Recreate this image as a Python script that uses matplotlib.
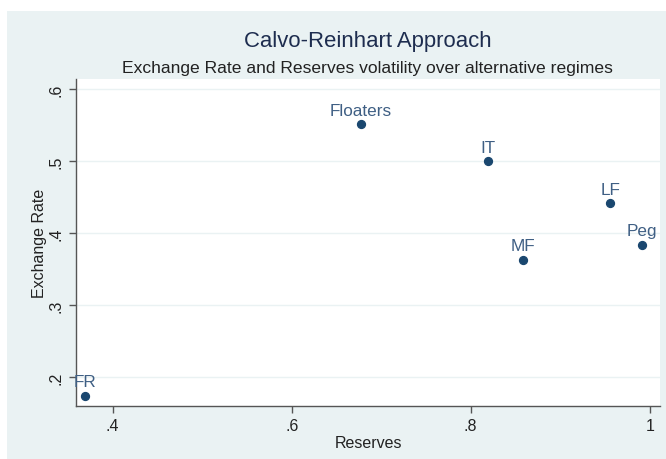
import matplotlib
matplotlib.use("Agg")
import matplotlib.pyplot as plt

plt.rcParams['font.family'] = ['Liberation Sans', 'DejaVu Sans']

regimes = ["FR", "Floaters", "IT", "MF", "LF", "Peg"]
reserves = [0.369, 0.677, 0.819, 0.858, 0.956, 0.991]
exchange_rate = [0.174, 0.551, 0.500, 0.363, 0.442, 0.384]

xticks = [0.4, 0.6, 0.8, 1.0]
xticklabels = [".4", ".6", ".8", "1"]
yticks = [0.2, 0.3, 0.4, 0.5, 0.6]
yticklabels = [".2", ".3", ".4", ".5", ".6"]

W, H = 666, 460
fig = plt.figure(figsize=(W / 100, H / 100), dpi=100, facecolor="white")
bg = "#EAF2F3"
bgax = fig.add_axes([7 / W, 0, 1 - 7 / W, (H - 12) / H], zorder=0)
bgax.axis("off")
bgax.add_patch(plt.Rectangle((0, 0), 1, 1, transform=bgax.transAxes,
                             facecolor=bg, edgecolor="none"))

ax = fig.add_axes([76 / W, (H - 407) / H, (660 - 76) / W, (407 - 80) / H], zorder=1)
ax.set_facecolor("white")
ax.set_xlim(0.359, 1.0115)
ax.set_ylim(0.1597, 0.614)

ax.scatter(reserves, exchange_rate, s=32, color="#1a476f", zorder=3)
for name, x, y in zip(regimes, reserves, exchange_rate):
    ax.annotate(name, (x, y), xytext=(0, 4.5), textcoords="offset points",
                ha="center", va="bottom", fontsize=12.3, color="#3f5f84", zorder=4)

ax.set_xticks(xticks)
ax.set_xticklabels(xticklabels)
ax.set_yticks(yticks)
ax.set_yticklabels(yticklabels, rotation=90, va="center")
ax.tick_params(axis="both", direction="out", length=5, width=1, color="#555555",
               labelsize=11.5, labelcolor="#222222", pad=4)
ax.grid(axis="y", color=bg, linewidth=1)
ax.set_axisbelow(True)
for s in ["top", "right"]:
    ax.spines[s].set_visible(False)
for s in ["left", "bottom"]:
    ax.spines[s].set_color("#555555")
    ax.spines[s].set_linewidth(1)

ax.set_xlabel("Reserves", fontsize=11.5, color="#222222", labelpad=1)
ax.set_ylabel("Exchange Rate", fontsize=11.5, color="#222222", labelpad=1)

fig.text(0.5 * (244 + 491) / W, 1 - 42 / H, "Calvo-Reinhart Approach",
         ha="center", va="center", fontsize=15.9, color="#1e2d4f")
fig.text(0.5 * (122 + 612) / W, 1 - 68 / H,
         "Exchange Rate and Reserves volatility over alternative regimes",
         ha="center", va="center", fontsize=12.6, color="#222222")

fig.savefig("out.png", dpi=100, facecolor="white")
